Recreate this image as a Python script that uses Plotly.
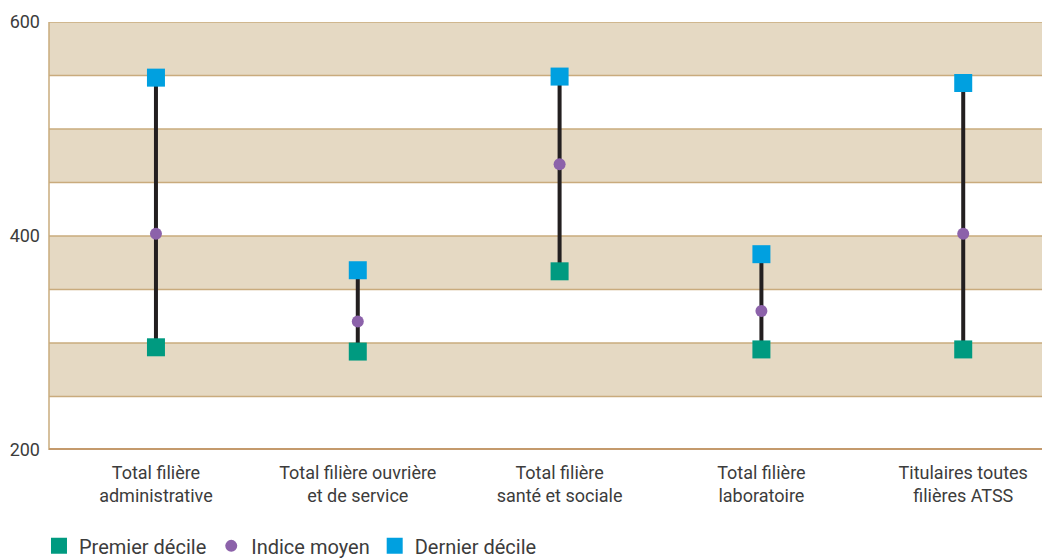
import plotly.graph_objects as go

categories = ["Total filière<br>administrative", "Total filière ouvrière<br>et de service",
              "Total filière<br>santé et sociale", "Total filière<br>laboratoire",
              "Titulaires toutes<br>filières ATSS"]
premier_decile = [296, 292, 367, 294, 294]
indice_moyen = [402, 320, 467, 330, 402]
dernier_decile = [548, 368, 549, 383, 543]
y_ticks = [200, 400, 600]

FONT = "Roboto, sans-serif"
TXT = "#3c3c3c"
TAN = "#e5d9c3"
LINE = "#c9ab7d"

x = list(range(len(categories)))

fig = go.Figure()

# connecting lines
lx, ly = [], []
for i in x:
    lx += [i, i, None]
    ly += [premier_decile[i], dernier_decile[i], None]
fig.add_trace(go.Scatter(x=lx, y=ly, mode="lines", line=dict(color="#231f20", width=4),
                         showlegend=False, hoverinfo="skip"))

fig.add_trace(go.Scatter(x=x, y=premier_decile, mode="markers", name="Premier décile",
                         marker=dict(symbol="square", size=18, color="#009a80")))
fig.add_trace(go.Scatter(x=x, y=indice_moyen, mode="markers", name="Indice moyen",
                         marker=dict(symbol="circle", size=12, color="#8c62aa")))
fig.add_trace(go.Scatter(x=x, y=dernier_decile, mode="markers", name="Dernier décile",
                         marker=dict(symbol="square", size=18, color="#00a0e0")))

shapes = []
for lo in range(200, 600, 50):
    if (lo // 50) % 2 == 1:
        shapes.append(dict(type="rect", xref="paper", yref="y", x0=0, x1=1, y0=lo, y1=lo + 50,
                           fillcolor=TAN, line=dict(width=0), layer="below"))
for v in range(250, 601, 50):
    shapes.append(dict(type="line", xref="paper", yref="y", x0=0, x1=1, y0=v, y1=v,
                       line=dict(color=LINE, width=1.5), layer="below"))
shapes.append(dict(type="line", xref="paper", yref="y", x0=0, x1=1, y0=200, y1=200,
                   line=dict(color="#c49a6c", width=4), layer="above"))
shapes.append(dict(type="line", xref="paper", yref="paper", x0=0, x1=0, y0=0, y1=1,
                   line=dict(color=LINE, width=1.5), layer="below"))

fig.update_layout(
    width=1042, height=550,
    margin=dict(l=41, r=0, t=14, b=108, autoexpand=False),
    plot_bgcolor="white", paper_bgcolor="white",
    font=dict(family=FONT, size=17, color=TXT),
    shapes=shapes,
    showlegend=True,
    legend=dict(orientation="h", x=-0.01, xanchor="left", y=-0.224, yanchor="middle",
                font=dict(size=20, color=TXT), itemwidth=30, tracegroupgap=0),
    xaxis=dict(range=[-0.53, 4.43], tickvals=x, ticktext=categories, showgrid=False,
               zeroline=False, showline=False, ticks="", automargin=False,
               ticklabelstandoff=10, tickfont=dict(size=18, color=TXT)),
    yaxis=dict(range=[200, 600], tickvals=y_ticks, showgrid=False, zeroline=False,
               showline=False, ticks="", automargin=False, ticklabelstandoff=8,
               tickfont=dict(size=18, color=TXT)),
)

fig.write_html("out.html")
